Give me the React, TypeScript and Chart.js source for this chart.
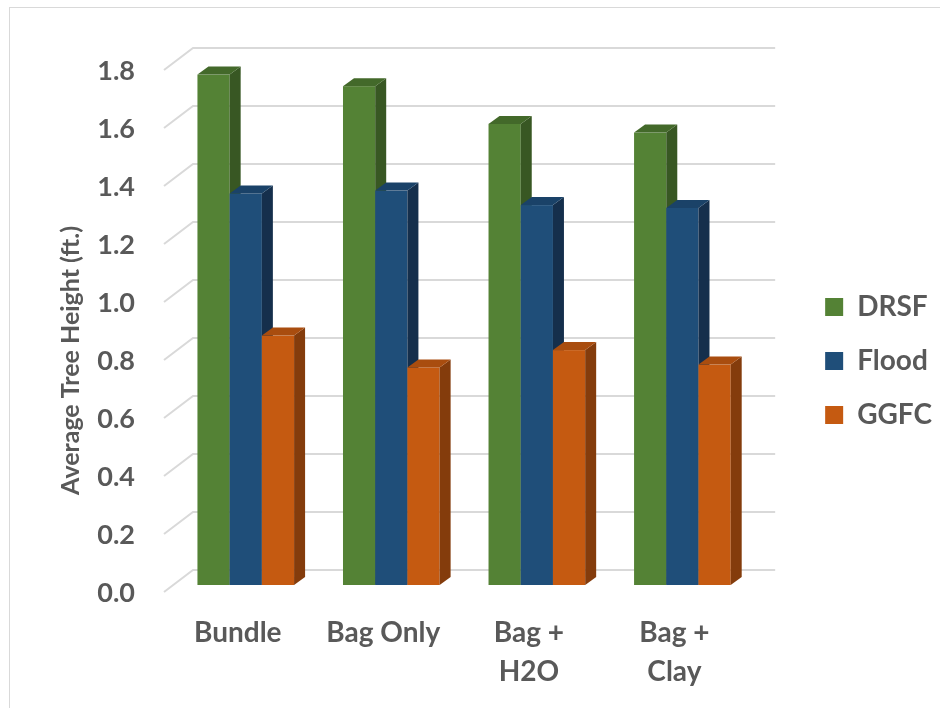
import React, { useEffect, useRef } from "react";
import { Chart, registerables } from "chart.js";

Chart.register(...registerables);

// ---- data ----
const categories: (string | string[])[] = ["Bundle", "Bag Only", ["Bag +", "H2O"], ["Bag +", "Clay"]];
const seriesNames = ["DRSF", "Flood", "GGFC"];
const drsfValues = [1.76, 1.72, 1.59, 1.56];
const floodValues = [1.35, 1.36, 1.31, 1.3];
const ggfcValues = [0.86, 0.75, 0.81, 0.76];
const yMin = 0;
const yMax = 1.8;
const yStep = 0.2;
const yTitle = "Average Tree Height (ft.)";

// ---- styles ----
const frontColors = ["#548235", "#1f4e79", "#c55a11"];
const topColors = ["#43692a", "#1a4268", "#a94d0f"];
const sideColors = ["#385723", "#152f4c", "#843c0c"];
const textColor = "#595959";
const FONT = "Lato, 'Open Sans', sans-serif";

const BAR_DX = 11;
const BAR_DY = 8;
const WALL_DX = 20;
const WALL_DY = 15;
const FRONT_DX = -9;
const FRONT_DY = 7;

const threeD = {
  id: "threeD",
  beforeDatasetsDraw(chart: any) {
    const { ctx, chartArea, scales } = chart;
    const y = scales.y;
    ctx.save();
    ctx.strokeStyle = "#d9d9d9";
    ctx.lineWidth = 2;
    y.ticks.forEach((t: any) => {
      const py = y.getPixelForValue(t.value);
      ctx.beginPath();
      ctx.moveTo(chartArea.left + FRONT_DX, py + FRONT_DY);
      ctx.lineTo(chartArea.left + WALL_DX, py - WALL_DY);
      ctx.lineTo(chartArea.right + WALL_DX, py - WALL_DY);
      ctx.stroke();
    });
    ctx.restore();
  },
  beforeDatasetDraw() {
    return false;
  },
  afterDatasetsDraw(chart: any) {
    const { ctx } = chart;
    ctx.save();
    chart.data.datasets.forEach((ds: any, i: number) => {
      const meta = chart.getDatasetMeta(i);
      if (meta.hidden) return;
      meta.data.forEach((bar: any) => {
        const { x, y, base, width } = bar.getProps(["x", "y", "base", "width"], true);
        const l = x - width / 2;
        const r = x + width / 2;
        ctx.fillStyle = frontColors[i];
        ctx.fillRect(l, y, width, base - y);
        ctx.fillStyle = sideColors[i];
        ctx.beginPath();
        ctx.moveTo(r, y);
        ctx.lineTo(r + BAR_DX, y - BAR_DY);
        ctx.lineTo(r + BAR_DX, base - BAR_DY);
        ctx.lineTo(r, base);
        ctx.closePath();
        ctx.fill();
        ctx.fillStyle = topColors[i];
        ctx.beginPath();
        ctx.moveTo(l, y);
        ctx.lineTo(l + BAR_DX, y - BAR_DY);
        ctx.lineTo(r + BAR_DX, y - BAR_DY);
        ctx.lineTo(r, y);
        ctx.closePath();
        ctx.fill();
      });
    });
    ctx.restore();
  },
};

export default function App() {
  const ref = useRef<HTMLCanvasElement | null>(null);

  useEffect(() => {
    if (!ref.current) return;
    const values = [drsfValues, floodValues, ggfcValues];
    const chart = new Chart(ref.current, {
      type: "bar",
      data: {
        labels: categories as any,
        datasets: seriesNames.map((name, i) => ({
          label: name,
          data: values[i],
          backgroundColor: frontColors[i],
          borderWidth: 0,
          barPercentage: 1,
          categoryPercentage: 0.664,
        })),
      },
      options: {
        animation: false,
        responsive: false,
        devicePixelRatio: 1,
        layout: { padding: { top: 63, left: 0, right: -2, bottom: 0 } },
        plugins: {
          tooltip: { enabled: false },
          legend: {
            position: "right",
            align: "center",
            fullSize: false,
            title: {
              display: true,
              text: "",
              padding: { top: 64, bottom: 0 },
              font: { size: 10, lineHeight: 1 },
            },
            labels: {
              boxWidth: 18,
              boxHeight: 18,
              padding: 26,
              color: textColor,
              font: { family: FONT, size: 28, weight: "bold" },
            },
          },
        },
        scales: {
          x: {
            type: "category",
            grid: { display: false, drawTicks: false },
            border: { display: false },
            ticks: {
              color: textColor,
              padding: 28,
              labelOffset: -8,
              maxRotation: 0,
              autoSkip: false,
              font: { family: FONT, size: 28, weight: "bold", lineHeight: 1.4 },
            },
            afterFit: (s: any) => {
              s.height = 708 - 585;
            },
          },
          y: {
            type: "linear",
            min: yMin,
            max: yMax,
            grid: { display: false, drawTicks: false },
            border: { display: false },
            ticks: {
              stepSize: yStep,
              color: textColor,
              padding: 38,
              labelOffset: 8,
              font: { family: FONT, size: 27, weight: "bold" },
              callback: (v: any) => Number(v).toFixed(1),
            },
            title: {
              display: true,
              text: yTitle + "            ",
              color: textColor,
              padding: { top: 56, bottom: 0 },
              font: { family: FONT, size: 25, weight: "bold", lineHeight: 1.2 },
            },
            afterFit: (s: any) => {
              s.width = 173;
            },
          },
          gap: {
            type: "linear",
            position: "right",
            display: true,
            grid: { display: false, drawTicks: false },
            border: { display: false },
            ticks: { display: false },
            afterFit: (s: any) => {
              s.width = 44;
            },
          },
        },
      },
      plugins: [threeD],
    });
    return () => chart.destroy();
  }, []);

  return (
    <div style={{ position: "fixed", left: 0, top: 0, width: 940, height: 708, background: "#fff" }}>
      <div
        style={{
          position: "absolute",
          left: 9,
          top: 7,
          width: 960,
          height: 720,
          border: "1px solid #d9d9d9",
          boxSizing: "border-box",
        }}
      />
      <canvas ref={ref} width={940} height={708} style={{ position: "absolute", left: 0, top: 0 }} />
    </div>
  );
}
